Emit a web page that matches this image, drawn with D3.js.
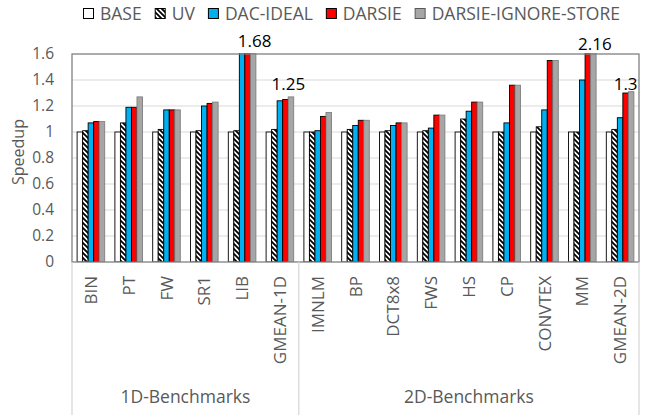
<!DOCTYPE html>
<html>
<head>
<meta charset="utf-8">
<script src="https://cdn.jsdelivr.net/npm/d3@7"></script>
<style>
  html, body { margin: 0; padding: 0; background: #fff; }
  svg { display: block; font-family: "Open Sans", "Noto Sans", sans-serif; }
</style>
</head>
<body>
<svg id="chart" width="649" height="415"></svg>
<script>
// Benchmarks, in the order they appear along the x axis
const categories = ["BIN", "PT", "FW", "SR1", "LIB", "GMEAN-1D",
  "IMNLM", "BP", "DCT8x8", "FWS", "HS", "CP", "CONVTEX", "MM", "GMEAN-2D"];

// Speedup of each configuration, one entry per benchmark
const base              = [1, 1, 1, 1, 1, 1, 1, 1, 1, 1, 1, 1, 1, 1, 1];
const uv                = [1.01, 1.07, 1.02, 1.01, 1.01, 1.02, 1.00, 1.02, 1.01, 1.01, 1.10, 1.00, 1.04, 1.00, 1.02];
const dacIdeal          = [1.07, 1.19, 1.17, 1.20, 1.64, 1.24, 1.01, 1.05, 1.05, 1.03, 1.16, 1.07, 1.17, 1.40, 1.11];
const darsie            = [1.08, 1.19, 1.17, 1.22, 1.68, 1.25, 1.12, 1.09, 1.07, 1.13, 1.23, 1.36, 1.55, 2.16, 1.30];
const darsieIgnoreStore = [1.08, 1.27, 1.17, 1.23, 1.68, 1.27, 1.15, 1.09, 1.07, 1.13, 1.23, 1.36, 1.55, 2.16, 1.31];

const seriesNames = ["BASE", "UV", "DAC-IDEAL", "DARSIE", "DARSIE-IGNORE-STORE"];
const seriesValues = [base, uv, dacIdeal, darsie, darsieIgnoreStore];

// Y axis ticks
const yTicks = [0, 0.2, 0.4, 0.6, 0.8, 1, 1.2, 1.4, 1.6];
const yTickLabels = ["0", "0.2", "0.4", "0.6", "0.8", "1", "1.2", "1.4", "1.6"];

// Benchmark groups shown beneath the category labels
const groupNames = ["1D-Benchmarks", "2D-Benchmarks"];
const groupFirst = ["BIN", "IMNLM"];
const groupLast  = ["GMEAN-1D", "GMEAN-2D"];

// Benchmarks whose DARSIE speedup is written above the bars
const labelledCats = ["LIB", "GMEAN-1D", "MM", "GMEAN-2D"];

// ---- appearance ----
const seriesFill   = ["#ffffff", "url(#uvStripes)", "#00b0f0", "#ff0000", "#a6a6a6"];
const seriesStroke = ["#000000", "#000000", "#000000", "#000000", "#7f7f7f"];
const labelNudge = { "LIB": [7, 7.5], "GMEAN-1D": [3, 9.5], "MM": [7, 4], "GMEAN-2D": [0, 3] };
const textGray = "#595959";

const svg = d3.select("#chart");
const plot = { left: 72, right: 639, top: 54, bottom: 262 };

const x = d3.scaleBand().domain(categories)
  .range([plot.left, plot.right]).paddingInner(0.27).paddingOuter(0.135);
const xs = d3.scaleBand().domain(seriesNames).range([0, x.bandwidth()]);
const y = d3.scaleLinear().domain([0, 1.6]).range([plot.bottom, plot.top]);
const gap = (x.step() - x.bandwidth()) / 2;

// Diagonal hatch used for the UV bars
const defs = svg.append("defs");
const pat = defs.append("pattern").attr("id", "uvStripes")
  .attr("patternUnits", "userSpaceOnUse").attr("width", 5).attr("height", 5);
pat.append("rect").attr("width", 5).attr("height", 5).attr("fill", "#fff");
pat.append("path").attr("d", "M-1,-1L6,6M-1,4L1,6M4,-1L6,1")
  .attr("stroke", "#000").attr("stroke-width", 1.8);
defs.append("clipPath").attr("id", "plotClip").append("rect")
  .attr("x", plot.left).attr("y", plot.top - 1)
  .attr("width", plot.right - plot.left).attr("height", plot.bottom - plot.top + 1);

// Gridlines
svg.append("g").selectAll("line").data(yTicks.filter(d => d > 0 && d < 1.6)).join("line")
  .attr("x1", plot.left).attr("x2", plot.right)
  .attr("y1", d => y(d)).attr("y2", d => y(d))
  .attr("stroke", "#d9d9d9").attr("stroke-width", 1);

// Bars
const barLayer = svg.append("g").attr("clip-path", "url(#plotClip)");
seriesNames.forEach((name, si) => {
  barLayer.append("g").selectAll("rect")
    .data(categories.map((c, i) => ({ c, v: seriesValues[si][i] })))
    .join("rect")
    .attr("x", d => x(d.c) + xs(name))
    .attr("width", xs.bandwidth())
    .attr("y", d => y(d.v))
    .attr("height", d => y(0) - y(d.v))
    .attr("fill", seriesFill[si])
    .attr("stroke", seriesStroke[si])
    .attr("stroke-width", 0.9);
});

// Plot frame
svg.append("rect")
  .attr("x", plot.left).attr("y", plot.top)
  .attr("width", plot.right - plot.left).attr("height", plot.bottom - plot.top)
  .attr("fill", "none").attr("stroke", "#808080").attr("stroke-width", 1.3);

// Y axis
const yAxis = svg.append("g").attr("transform", `translate(${plot.left - 18},0)`)
  .call(d3.axisLeft(y).tickValues(yTicks).tickSize(0).tickPadding(0)
    .tickFormat((d, i) => yTickLabels[i]));
yAxis.select(".domain").remove();
yAxis.selectAll("text").attr("font-size", 15.5).attr("fill", textGray)
  .attr("font-family", "Open Sans");

svg.append("text")
  .attr("transform", `translate(24,152) rotate(-90)`)
  .attr("text-anchor", "middle")
  .attr("font-size", 16).attr("fill", textGray)
  .text("Speedup");

// X axis category labels
const xAxis = svg.append("g").attr("transform", `translate(0,${plot.bottom})`)
  .call(d3.axisBottom(x).tickSize(0).tickPadding(0));
xAxis.select(".domain").remove();
xAxis.selectAll("text")
  .attr("transform", "rotate(-90)")
  .attr("x", -14).attr("y", 0).attr("dy", "0.36em")
  .attr("text-anchor", "end")
  .attr("font-size", 17).attr("fill", textGray).attr("font-family", "Open Sans");

// Group separators and group names
const bounds = [x(categories[0]) - gap];
groupLast.forEach(c => bounds.push(x(c) + x.bandwidth() + gap));
svg.append("g").selectAll("line").data(bounds).join("line")
  .attr("x1", d => d).attr("x2", d => d)
  .attr("y1", plot.bottom).attr("y2", 415)
  .attr("stroke", "#d9d9d9").attr("stroke-width", 1.3);
groupNames.forEach((g, i) => {
  const x0 = x(groupFirst[i]) - gap;
  const x1 = x(groupLast[i]) + x.bandwidth() + gap;
  svg.append("text")
    .attr("x", (x0 + x1) / 2).attr("y", 403)
    .attr("text-anchor", "middle")
    .attr("font-size", 17.5).attr("fill", textGray)
    .text(g);
});

// Value labels for the tall DARSIE bars
labelledCats.forEach(c => {
  const i = categories.indexOf(c);
  const v = darsie[i];
  const [dx, dy] = labelNudge[c];
  svg.append("text")
    .attr("x", x(c) + xs("DARSIE") + xs.bandwidth() / 2 + dx)
    .attr("y", Math.max(y(v), plot.top) - dy)
    .attr("text-anchor", "middle")
    .attr("font-size", 17).attr("fill", "#000")
    .text(String(v));
});

// Legend
const legend = svg.append("g").attr("transform", "translate(83,0)");
let lx = 0;
seriesNames.forEach((name, si) => {
  legend.append("rect")
    .attr("x", lx + 0.5).attr("y", 8.5).attr("width", 10).attr("height", 10)
    .attr("fill", seriesFill[si]).attr("stroke", seriesStroke[si] === "#7f7f7f" ? "#595959" : "#000")
    .attr("stroke-width", 1);
  const t = legend.append("text")
    .attr("x", lx + 17).attr("y", 19.5)
    .attr("font-size", 17.5).attr("fill", textGray)
    .text(name);
  lx += 17 + t.node().getComputedTextLength() + 13;
});
</script>
</body>
</html>
